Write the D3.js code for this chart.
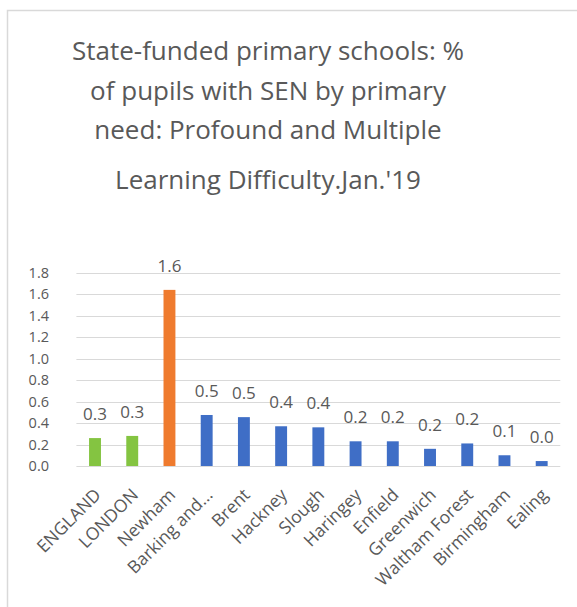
<!DOCTYPE html>
<html>
<head>
<meta charset="utf-8">
<script src="https://cdn.jsdelivr.net/npm/d3@7"></script>
<style>
  html, body { margin: 0; padding: 0; background: #ffffff; }
  svg { display: block; }
  text { font-family: "Open Sans", "Noto Sans", sans-serif; fill: #595959; }
</style>
</head>
<body>
<svg id="chart" width="577" height="607"></svg>
<script>
// Areas, in display order
const areas = ["ENGLAND", "LONDON", "Newham", "Barking and...", "Brent", "Hackney", "Slough",
  "Haringey", "Enfield", "Greenwich", "Waltham Forest", "Birmingham", "Ealing"];
// % of pupils with SEN whose primary need is PMLD
const values = [0.26, 0.28, 1.64, 0.475, 0.455, 0.37, 0.36, 0.23, 0.23, 0.16, 0.21, 0.10, 0.046];
// Bar fill group per area: national/regional, focus borough, other areas
const groups = ["benchmark", "benchmark", "focus", "other", "other", "other", "other",
  "other", "other", "other", "other", "other", "other"];
const yTicks = [0, 0.2, 0.4, 0.6, 0.8, 1.0, 1.2, 1.4, 1.6, 1.8];
const titleLines = ["State-funded primary schools: %", "of pupils with SEN by primary",
  "need: Profound and Multiple", "Learning Difficulty.Jan.'19"];

const colour = d3.scaleOrdinal()
  .domain(["benchmark", "focus", "other"])
  .range(["#84c441", "#ef7b2e", "#3f6ec6"]);

const svg = d3.select("#chart");

// chart frame (top and left edges)
svg.append("path")
  .attr("d", "M7.5,607 V10.5 H577")
  .attr("fill", "none")
  .attr("stroke", "#d9d9d9")
  .attr("stroke-width", 1.5);

// title
const titleY = [60, 100, 139, 189];
svg.append("g").selectAll("text")
  .data(titleLines)
  .join("text")
  .attr("x", 268)
  .attr("y", (d, i) => titleY[i])
  .attr("text-anchor", "middle")
  .attr("font-size", 26)
  .text(d => d);

const x = d3.scaleBand()
  .domain(areas)
  .range([76.4, 560.3])
  .paddingInner(0.68)
  .paddingOuter(0.34);

const y = d3.scaleLinear()
  .domain([0, 1.8])
  .range([466, 272.7]);

// gridlines
svg.append("g")
  .selectAll("line")
  .data(yTicks)
  .join("line")
  .attr("x1", 76.4)
  .attr("x2", 560.3)
  .attr("y1", d => Math.round(y(d)) + 0.5)
  .attr("y2", d => Math.round(y(d)) + 0.5)
  .attr("stroke", "#d9d9d9")
  .attr("stroke-width", 1);

// y axis labels
const yAxis = d3.axisLeft(y)
  .tickValues(yTicks)
  .tickFormat(d3.format(".1f"))
  .tickSize(0)
  .tickPadding(0);
const yg = svg.append("g")
  .attr("transform", "translate(49,0)")
  .call(yAxis);
yg.select(".domain").remove();
yg.selectAll("text")
  .attr("font-size", 14.5)
  .attr("font-family", null)
  .attr("fill", "#595959");

// bars
const data = areas.map((a, i) => ({ area: a, value: values[i], group: groups[i] }));
svg.append("g")
  .selectAll("rect")
  .data(data)
  .join("rect")
  .attr("x", d => x(d.area))
  .attr("width", x.bandwidth())
  .attr("y", d => y(d.value))
  .attr("height", d => y(0) - y(d.value))
  .attr("fill", d => colour(d.group));

// value labels
const fmt = d3.format(".1f");
svg.append("g")
  .selectAll("text")
  .data(data)
  .join("text")
  .attr("x", d => x(d.area) + x.bandwidth() / 2)
  .attr("y", d => y(d.value) - 18)
  .attr("text-anchor", "middle")
  .attr("font-size", 17)
  .text(d => fmt(d.value));

// category labels, rotated
const xAxis = d3.axisBottom(x).tickSize(0).tickPadding(0);
const xg = svg.append("g")
  .attr("transform", "translate(0,466)")
  .call(xAxis);
xg.select(".domain").remove();
xg.selectAll("text")
  .attr("font-size", 17.5)
  .attr("font-family", null)
  .attr("fill", "#595959")
  .attr("text-anchor", "end")
  .attr("dy", null)
  .attr("transform", "translate(7,30) rotate(-45)");
</script>
</body>
</html>
